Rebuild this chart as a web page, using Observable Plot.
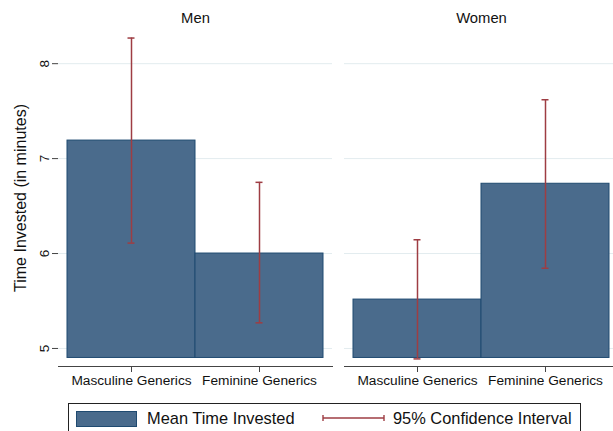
<!DOCTYPE html>
<html>
<head>
<meta charset="utf-8">
<script src="https://cdn.jsdelivr.net/npm/d3@7"></script>
<script src="https://cdn.jsdelivr.net/npm/@observablehq/plot@0.6"></script>
<style>
  html, body { margin: 0; padding: 0; background: #fff; }
  body { width: 613px; height: 431px; overflow: hidden; font-family: "Liberation Sans", Arial, sans-serif; position: relative; }
  #chart svg { display: block; }
  .legend { position: absolute; left: 68px; top: 403px; width: 513px; height: 34px; border: 1px solid #222; box-sizing: border-box; }
  .sw { position: absolute; left: 7px; top: 7px; width: 61px; height: 16px; background: #4a6b8c; border: 1px solid #1f4a70; box-sizing: border-box; }
  .lt { position: absolute; top: 4px; font-size: 16.4px; color: #111; white-space: nowrap; line-height: 20px; }
  .ci { position: absolute; left: 253px; top: 9px; }
</style>
</head>
<body>
<div id="chart"></div>
<div class="legend">
  <div class="sw"></div>
  <div class="lt" style="left:78px">Mean Time Invested</div>
  <svg class="ci" width="64" height="10"><line x1="1" y1="5" x2="62" y2="5" stroke="#9e3d43" stroke-width="1.4"/><line x1="1" y1="2" x2="1" y2="8" stroke="#9e3d43" stroke-width="1.4"/><line x1="62" y1="2" x2="62" y2="8" stroke="#9e3d43" stroke-width="1.4"/></svg>
  <div class="lt" style="left:324px">95% Confidence Interval</div>
</div>
<script>
const panels = ["Men", "Women"];
const conditions = ["Masculine Generics", "Feminine Generics"];
const meanMen = [7.19, 6.00];
const meanWomen = [5.515, 6.735];
const ciLowMen = [6.11, 5.27];
const ciHighMen = [8.27, 6.75];
const ciLowWomen = [4.89, 5.845];
const ciHighWomen = [6.145, 7.62];
const baseline = 4.9;
const yTicks = [5, 6, 7, 8];

const rows = [];
conditions.forEach((c, i) => {
  rows.push({panel: panels[0], condition: c, mean: meanMen[i], lo: ciLowMen[i], hi: ciHighMen[i], base: baseline});
  rows.push({panel: panels[1], condition: c, mean: meanWomen[i], lo: ciLowWomen[i], hi: ciHighWomen[i], base: baseline});
});

const barFill = "#4a6b8c";
const barStroke = "#1f4a70";
const ciColor = "#9e3d43";

const chart = Plot.plot({
  width: 613,
  height: 395,
  marginTop: 29,
  marginBottom: 29,
  marginLeft: 58,
  marginRight: -5,
  style: {fontFamily: "'Liberation Sans', Arial, sans-serif", fontSize: "13px", color: "#111", background: "#fff"},
  fx: {domain: panels, paddingInner: 0.042, paddingOuter: 0},
  x: {domain: conditions, paddingInner: 0, paddingOuter: 0.068},
  y: {domain: [4.81, 8.36]},
  marks: [
    Plot.gridY(yTicks, {stroke: "#e3ecef", strokeOpacity: 1}),
    Plot.barY(rows, {fx: "panel", x: "condition", y1: "base", y2: "mean", fill: barFill, stroke: barStroke, strokeWidth: 1}),
    Plot.ruleX(rows, {fx: "panel", x: "condition", y1: "lo", y2: "hi", stroke: ciColor, strokeWidth: 1.5}),
    Plot.tickY(rows, {fx: "panel", x: "condition", y: "lo", stroke: ciColor, strokeWidth: 1.5, insetLeft: 60.5, insetRight: 60.5}),
    Plot.tickY(rows, {fx: "panel", x: "condition", y: "hi", stroke: ciColor, strokeWidth: 1.5, insetLeft: 60.5, insetRight: 60.5}),
    Plot.frame({anchor: "bottom", stroke: "#444"}),
    Plot.axisY({ticks: yTicks, tickFormat: "d", tickSize: 6, tickRotate: -90, tickPadding: 4, line: true, stroke: "#444", fontSize: 13.5,
      label: "Time Invested (in minutes)", labelAnchor: "center", labelArrow: "none", labelOffset: 44}),
    Plot.axisX({tickSize: 6, tickPadding: 3, stroke: "#444", label: null, fontSize: 13.7}),
    Plot.axisFx({anchor: "top", tickSize: 0, tickPadding: 7, label: null, fontSize: 14.8})
  ]
});
const yLabel = chart.querySelector("g[aria-label='y-axis label']");
if (yLabel) {
  yLabel.setAttribute("font-size", "16");
  yLabel.querySelectorAll("text").forEach(t => t.removeAttribute("font-size"));
}
document.getElementById("chart").appendChild(chart);
</script>
</body>
</html>
